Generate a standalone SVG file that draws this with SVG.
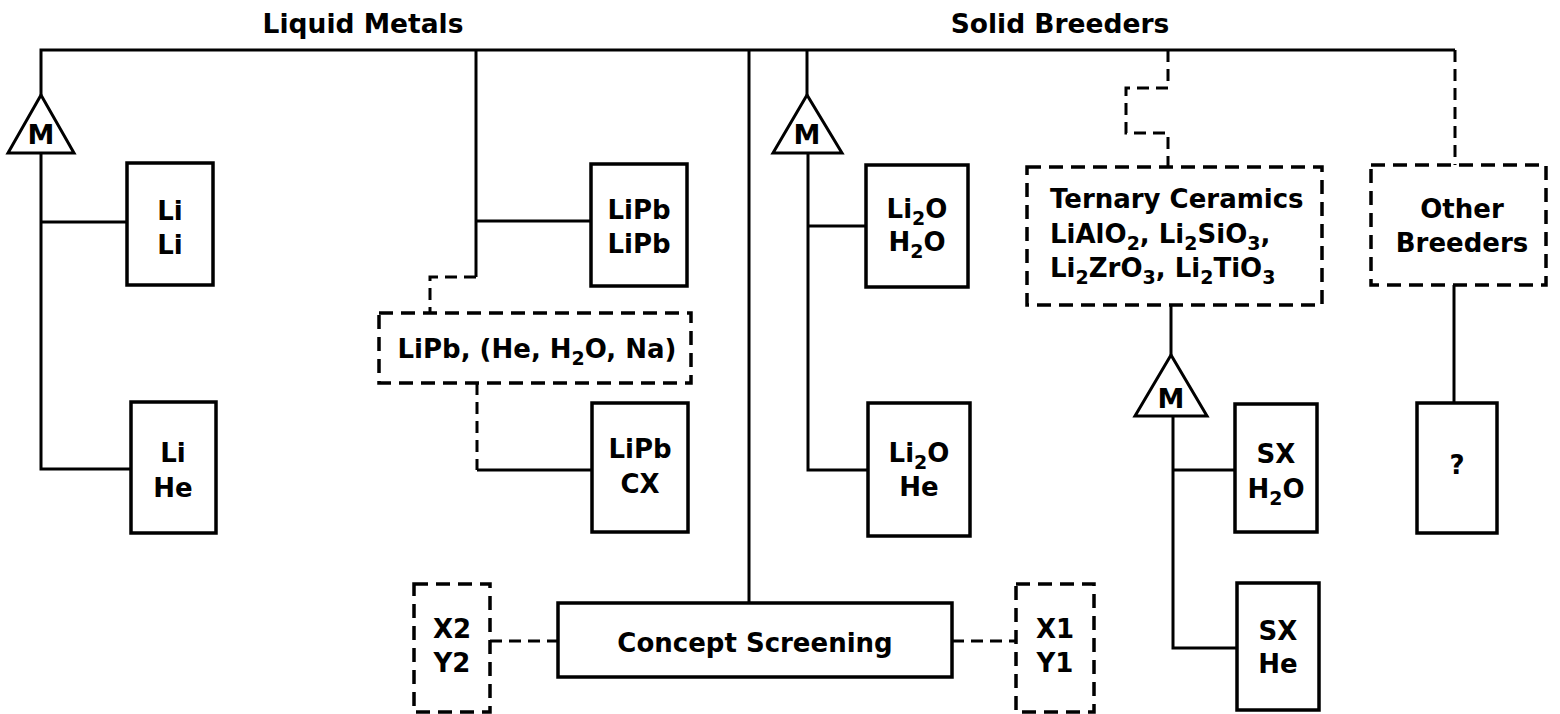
<svg xmlns="http://www.w3.org/2000/svg" width="1560" height="714" viewBox="0 0 1560 714">
<style>
.ln{stroke:#000;stroke-width:3;fill:none;stroke-linejoin:miter}
.dl{stroke:#000;stroke-width:3;fill:none;stroke-dasharray:12 7}
.box{fill:#fff;stroke:#000;stroke-width:3.5}
.dbox{fill:#fff;stroke:#000;stroke-width:3.5;stroke-dasharray:14 8}
.tri{fill:#fff;stroke:#000;stroke-width:3;stroke-linejoin:miter}
text{font-family:"DejaVu Sans","Liberation Sans",sans-serif;font-weight:bold;font-size:26px;fill:#000}
.c{text-anchor:middle}
.t{font-size:26.5px}
.m{font-size:27px}
.sub{font-size:19px}
</style>
<rect x="0" y="0" width="1560" height="714" fill="#fff"/>
<g id="titles">
<text class="c t" x="363" y="33">Liquid Metals</text>
<text class="c t" x="1060" y="33">Solid Breeders</text>
</g>
<g id="connectors">
<polyline class="ln" points="41,95 41,50 1455,50"/>
<polyline class="dl" points="1455,50 1455,165"/>
<polyline class="ln" points="41,153 41,469 131,469"/>
<line class="ln" x1="41" y1="222" x2="127" y2="222"/>
<line class="ln" x1="476" y1="50" x2="476" y2="277"/>
<line class="ln" x1="476" y1="221" x2="591" y2="221"/>
<polyline class="dl" points="476,277 430,277 430,313"/>
<polyline class="dl" points="477,383 477,470"/>
<line class="ln" x1="477" y1="470" x2="592" y2="470"/>
<line class="ln" x1="749" y1="50" x2="749" y2="603"/>
<line class="dl" x1="490" y1="641" x2="558" y2="641"/>
<line class="dl" x1="952" y1="641" x2="1016" y2="641"/>
<line class="ln" x1="807" y1="50" x2="807" y2="95"/>
<polyline class="ln" points="808,153 808,470 868,470"/>
<line class="ln" x1="808" y1="226" x2="866" y2="226"/>
<polyline class="dl" points="1168,50 1168,88 1126,88 1126,133 1168,133 1168,167"/>
<line class="ln" x1="1171" y1="305" x2="1171" y2="355"/>
<polyline class="ln" points="1173,416 1173,648 1237,648"/>
<line class="ln" x1="1173" y1="470" x2="1235" y2="470"/>
<line class="ln" x1="1454" y1="285" x2="1454" y2="403"/>
</g>
<g id="m1">
<polygon class="tri" points="41,95 8,153 74,153"/>
<text class="c m" x="41" y="144">M</text>
</g>
<g id="li-li">
<rect class="box" x="127" y="163" width="86" height="122"/>
<text class="c" x="170" y="220">Li</text>
<text class="c" x="170" y="254">Li</text>
</g>
<g id="li-he">
<rect class="box" x="131" y="402" width="85" height="131"/>
<text class="c" x="173" y="462">Li</text>
<text class="c" x="173" y="497">He</text>
</g>
<g id="lipb-lipb">
<rect class="box" x="591" y="164" width="96" height="122"/>
<text class="c" x="639" y="219">LiPb</text>
<text class="c" x="639" y="253">LiPb</text>
</g>
<g id="lipb-options">
<rect class="dbox" x="379" y="313" width="312" height="70"/>
<text class="c" x="537" y="358">LiPb, (He, H<tspan class="sub" dy="7">2</tspan><tspan dy="-7">O, Na)</tspan></text>
</g>
<g id="lipb-cx">
<rect class="box" x="592" y="403" width="96" height="129"/>
<text class="c" x="640" y="458">LiPb</text>
<text class="c" x="640" y="493">CX</text>
</g>
<g id="concept-screening">
<rect class="box" x="558" y="603" width="394" height="74"/>
<text class="c" x="755" y="652">Concept Screening</text>
</g>
<g id="x2y2">
<rect class="dbox" x="414" y="584" width="76" height="128"/>
<text class="c" x="452" y="638">X2</text>
<text class="c" x="452" y="672">Y2</text>
</g>
<g id="x1y1">
<rect class="dbox" x="1016" y="584" width="78" height="128"/>
<text class="c" x="1055" y="638">X1</text>
<text class="c" x="1055" y="672">Y1</text>
</g>
<g id="m2">
<polygon class="tri" points="807,95 773,153 842,153"/>
<text class="c m" x="807" y="144">M</text>
</g>
<g id="li2o-h2o">
<rect class="box" x="866" y="165" width="102" height="122"/>
<text class="c" x="917" y="218">Li<tspan class="sub" dy="7">2</tspan><tspan dy="-7">O</tspan></text>
<text class="c" x="917" y="251">H<tspan class="sub" dy="7">2</tspan><tspan dy="-7">O</tspan></text>
</g>
<g id="li2o-he">
<rect class="box" x="868" y="403" width="102" height="133"/>
<text class="c" x="919" y="462">Li<tspan class="sub" dy="7">2</tspan><tspan dy="-7">O</tspan></text>
<text class="c" x="919" y="496">He</text>
</g>
<g id="ternary-ceramics">
<rect class="dbox" x="1027" y="167" width="295" height="138"/>
<text x="1050" y="208">Ternary Ceramics</text>
<text x="1050" y="243">LiAlO<tspan class="sub" dy="7">2</tspan><tspan dy="-7">, Li</tspan><tspan class="sub" dy="7">2</tspan><tspan dy="-7">SiO</tspan><tspan class="sub" dy="7">3</tspan><tspan dy="-7">,</tspan></text>
<text x="1050" y="277">Li<tspan class="sub" dy="7">2</tspan><tspan dy="-7">ZrO</tspan><tspan class="sub" dy="7">3</tspan><tspan dy="-7">, Li</tspan><tspan class="sub" dy="7">2</tspan><tspan dy="-7">TiO</tspan><tspan class="sub" dy="7">3</tspan></text>
</g>
<g id="m3">
<polygon class="tri" points="1171,355 1135,416 1207,416"/>
<text class="c m" x="1171" y="408">M</text>
</g>
<g id="sx-h2o">
<rect class="box" x="1235" y="404" width="82" height="128"/>
<text class="c" x="1276" y="463">SX</text>
<text class="c" x="1276" y="498">H<tspan class="sub" dy="7">2</tspan><tspan dy="-7">O</tspan></text>
</g>
<g id="sx-he">
<rect class="box" x="1237" y="583" width="82" height="127"/>
<text class="c" x="1278" y="640">SX</text>
<text class="c" x="1278" y="673">He</text>
</g>
<g id="other-breeders">
<rect class="dbox" x="1371" y="165" width="175" height="120"/>
<text class="c" x="1462" y="218">Other</text>
<text class="c" x="1462" y="252">Breeders</text>
</g>
<g id="unknown">
<rect class="box" x="1417" y="403" width="80" height="130"/>
<text class="c" x="1457" y="474">?</text>
</g>
</svg>
